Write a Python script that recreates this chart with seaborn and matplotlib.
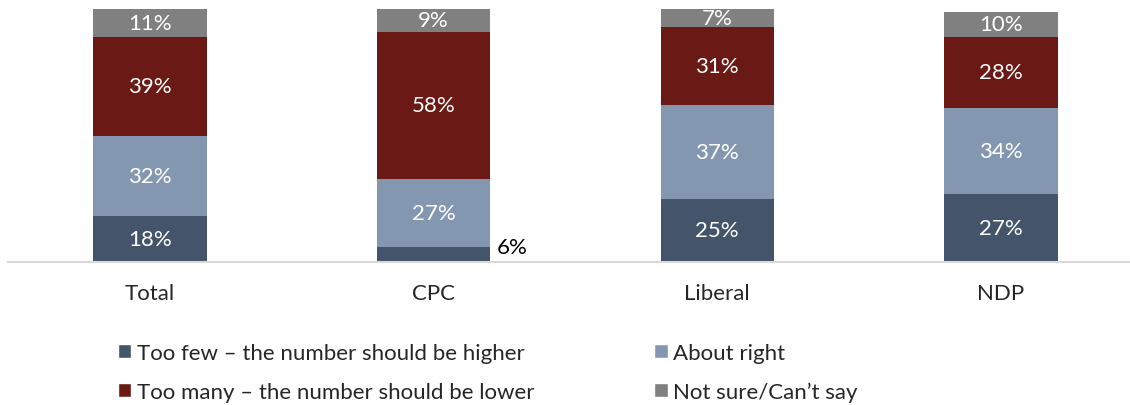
import numpy as np
import pandas as pd
import matplotlib
matplotlib.use("Agg")
import matplotlib.pyplot as plt
import seaborn as sns
from matplotlib.patches import Patch

categories = ["Total", "CPC", "Liberal", "NDP"]
series_names = ["Too few \u2013 the number should be higher",
                "About right",
                "Too many \u2013 the number should be lower",
                "Not sure/Can\u2019t say"]
too_few = [18, 6, 25, 27]
about_right = [32, 27, 37, 34]
too_many = [39, 58, 31, 28]
not_sure = [11, 9, 7, 10]

colors = ["#44546A", "#8497B0", "#6A1915", "#808080"]

sns.set_style("white")
plt.rcParams["font.family"] = ["Lato", "DejaVu Sans"]

W, H = 1130, 406
fig = plt.figure(figsize=(W / 100, H / 100), dpi=100)
left_px, right_px = 8, 1130
base_px, top_px = 263, 10
ax = fig.add_axes([left_px / W, (H - base_px) / H, (right_px - left_px) / W, (base_px - top_px) / H])

series = [too_few, about_right, too_many, not_sure]
cum = np.cumsum(np.array(series, dtype=float), axis=0)

df = pd.DataFrame({"cat": categories})
for i in range(3, -1, -1):
    df["v"] = cum[i]
    sns.barplot(data=df, x="cat", y="v", color=colors[i], width=0.4,
                saturation=1, ax=ax, linewidth=0, order=categories)

spacing = 283.7
ax.set_xlim(-0.5, -0.5 + (right_px - left_px) / spacing)
ax.set_ylim(0, 100)

FS = 16
for j, cat in enumerate(categories):
    for i in range(4):
        val = series[i][j]
        bottom = cum[i][j] - val
        if val < 7 and i == 0:
            ax.text(j + 0.2 + 0.022, val, f"{val}%", ha="left", va="center",
                    color="black", fontsize=FS)
        else:
            ax.text(j, bottom + val / 2, f"{val}%", ha="center", va="center",
                    color="white", fontsize=FS)

for s in ["top", "right", "left"]:
    ax.spines[s].set_visible(False)
ax.spines["bottom"].set_color("#D9D9D9")
ax.spines["bottom"].set_linewidth(1.5)
ax.set_yticks([])
ax.set_xlabel("")
ax.set_ylabel("")
ax.tick_params(axis="x", length=0, pad=15, labelsize=FS)

handles = [Patch(facecolor=colors[0]), Patch(facecolor=colors[2]),
           Patch(facecolor=colors[1]), Patch(facecolor=colors[3])]
labels = [series_names[0], series_names[2], series_names[1], series_names[3]]
fig.legend(handles, labels, ncol=2, loc="upper left",
           bbox_to_anchor=(98 / W, 1 - 324 / H), frameon=False,
           fontsize=FS, handlelength=0.6, handleheight=0.6,
           handletextpad=0.25, columnspacing=5.4, labelspacing=0.85)

fig.savefig("out.png", dpi=100)
